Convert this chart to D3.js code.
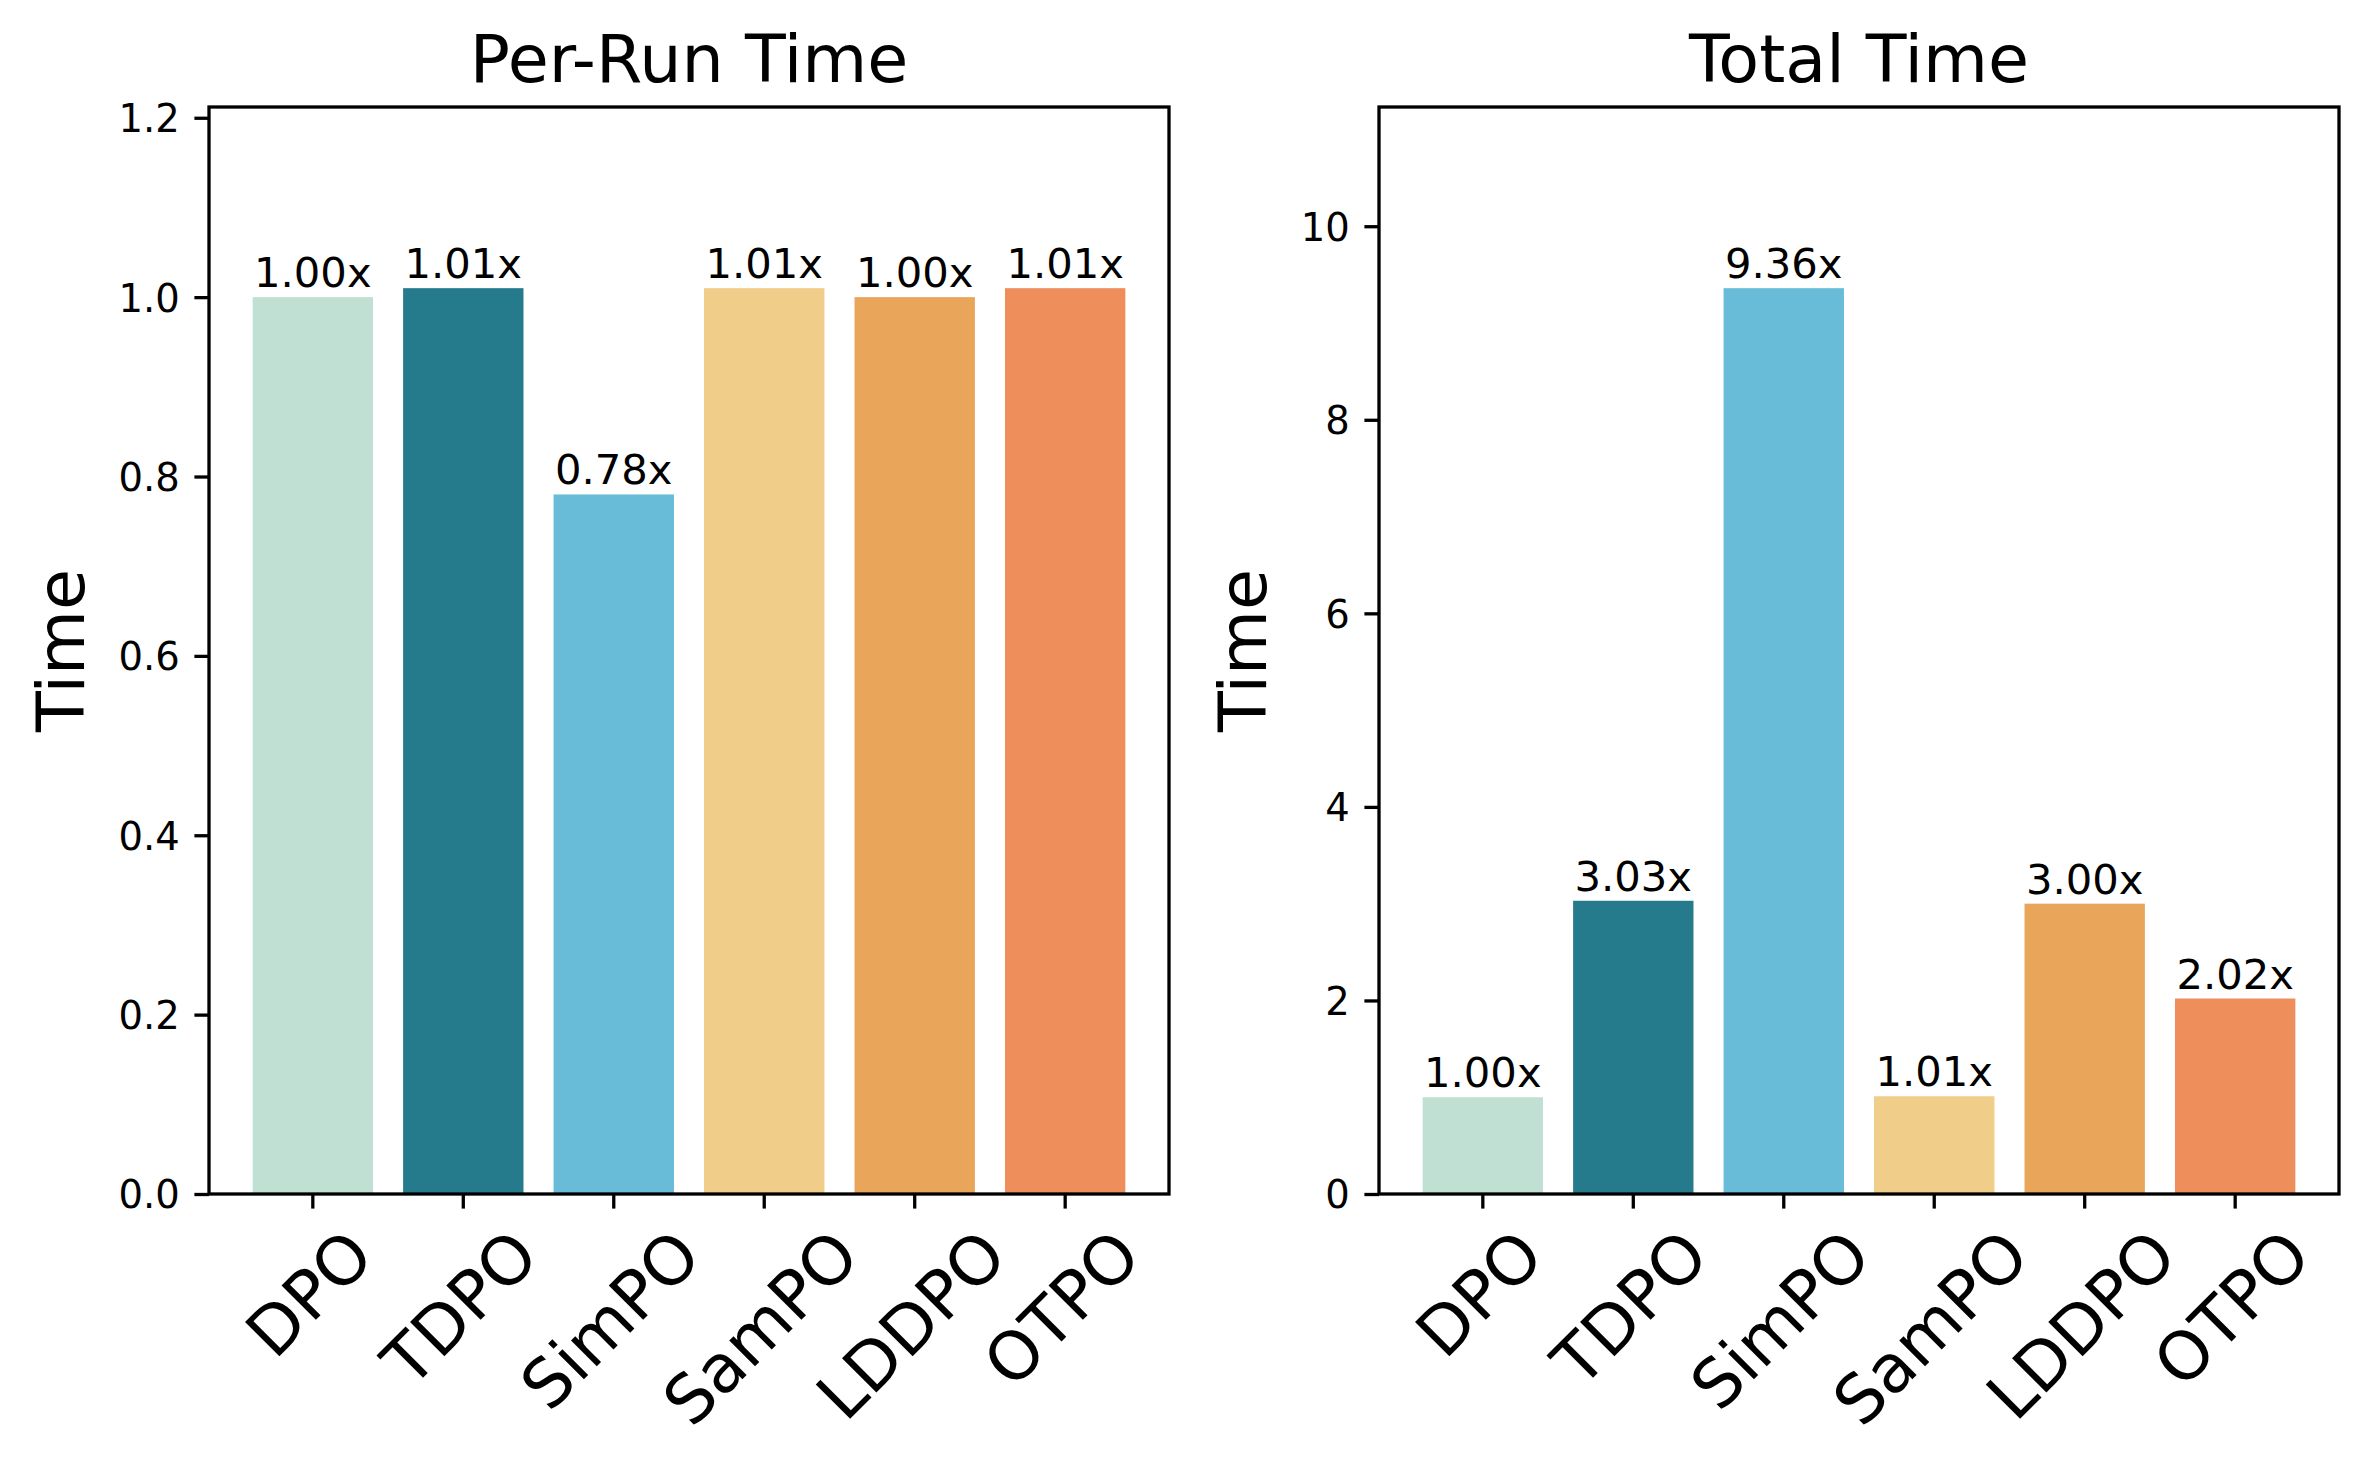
<!DOCTYPE html>
<html lang="en">
<head>
<meta charset="UTF-8">
<title>Per-Run Time / Total Time</title>
<script src="https://cdn.jsdelivr.net/npm/d3@7"></script>
<style>
  body { margin: 0; background: #fff; }
  text { font-family: "DejaVu Sans", sans-serif; fill: #000; }
</style>
</head>
<body>
<script>
// data
var methods = ["DPO", "TDPO", "SimPO", "SamPO", "LDDPO", "OTPO"];
var colors = ["#c0e0d4", "#257b8b", "#69bcd8", "#f0cd88", "#e9a65a", "#ed8e5b"];
var perRunTime = [1.00, 1.01, 0.78, 1.01, 1.00, 1.01];
var totalTime = [1.00, 3.03, 9.36, 1.01, 3.00, 2.02];
var perRunTicks = [0, 0.2, 0.4, 0.6, 0.8, 1.0, 1.2];
var totalTicks = [0, 2, 4, 6, 8, 10];

var W = 2369, H = 1470;
var plotTop = 107, plotBottom = 1194;
var lw = 3.3;          // spine / tick width
var tickLen = 14.6;
var tickFont = 38.5, barFont = 41.7, catFont = 66.7, titleFont = 66.7;

var svg = d3.select("body").append("svg")
    .attr("width", W)
    .attr("height", H);

function drawPanel(x0, x1, values, ticks, fmt, title) {
    var g = svg.append("g");

    var x = d3.scaleBand()
        .domain(methods)
        .range([x0, x1])
        .paddingInner(0.2)
        .paddingOuter(0.29);
    var y = d3.scaleLinear()
        .domain([0, d3.max(values) * 1.2])
        .range([plotBottom, plotTop]);

    // bars
    g.selectAll("rect.bar")
        .data(values)
        .enter()
        .append("rect")
        .attr("class", "bar")
        .attr("x", function (d, i) { return x(methods[i]); })
        .attr("y", function (d) { return y(d); })
        .attr("width", x.bandwidth())
        .attr("height", function (d) { return y(0) - y(d); })
        .attr("fill", function (d, i) { return colors[i]; });

    // value labels
    g.selectAll("text.val")
        .data(values)
        .enter()
        .append("text")
        .attr("class", "val")
        .attr("x", function (d, i) { return x(methods[i]) + x.bandwidth() / 2; })
        .attr("y", function (d) { return y(d) - 10; })
        .attr("text-anchor", "middle")
        .attr("font-size", barFont + "px")
        .text(function (d) { return d.toFixed(2) + "x"; });

    // y axis
    var ya = g.append("g")
        .attr("transform", "translate(" + x0 + ",0)")
        .call(d3.axisLeft(y).tickValues(ticks).tickFormat(fmt)
            .tickSize(tickLen).tickSizeOuter(0).tickPadding(tickLen));
    ya.select(".domain").remove();
    ya.selectAll("line").attr("stroke", "#000").attr("stroke-width", lw);
    ya.selectAll("text")
        .attr("font-size", tickFont + "px")
        .attr("font-family", "DejaVu Sans")
        .attr("dy", "0.36em");

    // x axis
    var xa = g.append("g")
        .attr("transform", "translate(0," + plotBottom + ")")
        .call(d3.axisBottom(x).tickSize(tickLen).tickSizeOuter(0).tickPadding(0));
    xa.select(".domain").remove();
    xa.selectAll("line").attr("stroke", "#000").attr("stroke-width", lw);
    xa.selectAll("text").remove();

    // rotated category labels (45deg, centred like matplotlib)
    methods.forEach(function (m) {
        var cx = x(m) + x.bandwidth() / 2;
        var t = g.append("text")
            .attr("font-size", catFont + "px")
            .attr("text-anchor", "middle")
            .text(m);
        var w = t.node().getComputedTextLength();
        var h = 0.97 * catFont;
        var cy = plotBottom + tickLen + tickLen + (w + h) * Math.SQRT1_2 / 2;
        t.attr("x", 0)
            .attr("y", 0.275 * catFont)
            .attr("transform", "translate(" + cx + "," + cy + ") rotate(-45)");
    });

    // frame
    g.append("rect")
        .attr("x", x0)
        .attr("y", plotTop)
        .attr("width", x1 - x0)
        .attr("height", plotBottom - plotTop)
        .attr("fill", "none")
        .attr("stroke", "#000")
        .attr("stroke-width", lw);

    // title
    g.append("text")
        .attr("x", (x0 + x1) / 2)
        .attr("y", plotTop - 25)
        .attr("text-anchor", "middle")
        .attr("font-size", titleFont + "px")
        .text(title);

    // y label
    var labelW = d3.max(ya.selectAll("text").nodes(), function (n) {
        return n.getComputedTextLength();
    });
    var lx = x0 - tickLen - tickLen - labelW - 19 - 0.236 * titleFont;
    g.append("text")
        .attr("transform", "translate(" + lx + "," + ((plotTop + plotBottom) / 2) + ") rotate(-90)")
        .attr("text-anchor", "middle")
        .attr("font-size", titleFont + "px")
        .text("Time");
}

drawPanel(209, 1169, perRunTime, perRunTicks, d3.format(".1f"), "Per-Run Time");
drawPanel(1379, 2339, totalTime, totalTicks, d3.format("d"), "Total Time");
</script>
</body>
</html>
